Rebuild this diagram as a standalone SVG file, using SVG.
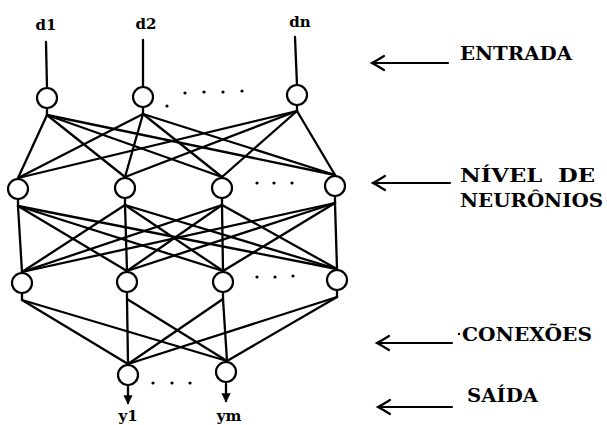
<svg xmlns="http://www.w3.org/2000/svg" width="607" height="425" viewBox="0 0 607 425">
<style>
.n{fill:#fff;stroke:#000;stroke-width:2.2}
.c line{stroke:#000;stroke-width:2.3;stroke-linecap:round}
.lbl{font-family:"DejaVu Serif","Liberation Serif",serif;font-weight:bold;fill:#000}
.t{font-size:15px}
.r{font-size:18px}
.ar{fill:none;stroke:#000;stroke-width:2.2;stroke-linecap:round}
.dot{fill:#000}
</style>
<defs>
<marker id="ah" viewBox="0 0 6 6" refX="5" refY="3" markerWidth="4" markerHeight="4" orient="auto">
<path d="M0,0 L6,3 L0,6 z" fill="#000"/>
</marker>
</defs>
<g class="c" id="connectors">
<line x1="46" y1="42" x2="47" y2="88"/>
<line x1="143" y1="40" x2="143" y2="87"/>
<line x1="295" y1="37" x2="297" y2="85"/>
<line x1="47" y1="115" x2="18" y2="178"/>
<line x1="47" y1="115" x2="125" y2="177"/>
<line x1="47" y1="115" x2="222" y2="177"/>
<line x1="47" y1="115" x2="335" y2="175"/>
<line x1="143" y1="114" x2="18" y2="178"/>
<line x1="143" y1="114" x2="125" y2="177"/>
<line x1="143" y1="114" x2="222" y2="177"/>
<line x1="143" y1="114" x2="335" y2="175"/>
<line x1="297" y1="111" x2="18" y2="178"/>
<line x1="297" y1="111" x2="125" y2="177"/>
<line x1="297" y1="111" x2="222" y2="177"/>
<line x1="297" y1="111" x2="335" y2="175"/>
<line x1="47" y1="108" x2="47" y2="115"/>
<line x1="143" y1="107" x2="143" y2="114"/>
<line x1="297" y1="105" x2="297" y2="111"/>
<line x1="18" y1="206" x2="22" y2="272"/>
<line x1="18" y1="206" x2="127" y2="271"/>
<line x1="18" y1="206" x2="223" y2="271"/>
<line x1="18" y1="206" x2="337" y2="269"/>
<line x1="125" y1="205" x2="22" y2="272"/>
<line x1="125" y1="205" x2="127" y2="271"/>
<line x1="125" y1="205" x2="223" y2="271"/>
<line x1="125" y1="205" x2="337" y2="269"/>
<line x1="222" y1="205" x2="22" y2="272"/>
<line x1="222" y1="205" x2="127" y2="271"/>
<line x1="222" y1="205" x2="223" y2="271"/>
<line x1="222" y1="205" x2="337" y2="269"/>
<line x1="335" y1="203" x2="22" y2="272"/>
<line x1="335" y1="203" x2="127" y2="271"/>
<line x1="335" y1="203" x2="223" y2="271"/>
<line x1="335" y1="203" x2="337" y2="269"/>
<line x1="18" y1="199" x2="18" y2="206"/>
<line x1="125" y1="198" x2="125" y2="205"/>
<line x1="222" y1="198" x2="222" y2="205"/>
<line x1="335" y1="196" x2="335" y2="203"/>
<line x1="22" y1="300" x2="128" y2="364"/>
<line x1="22" y1="300" x2="227" y2="361"/>
<line x1="127" y1="299" x2="128" y2="364"/>
<line x1="127" y1="299" x2="227" y2="361"/>
<line x1="223" y1="299" x2="128" y2="364"/>
<line x1="223" y1="299" x2="227" y2="361"/>
<line x1="337" y1="297" x2="128" y2="364"/>
<line x1="337" y1="297" x2="227" y2="361"/>
<line x1="22" y1="293" x2="22" y2="300"/>
<line x1="127" y1="292" x2="127" y2="299"/>
<line x1="223" y1="292" x2="223" y2="299"/>
<line x1="337" y1="290" x2="337" y2="297"/>
<line x1="128" y1="387" x2="128" y2="403" marker-end="url(#ah)"/>
<line x1="226" y1="384" x2="226" y2="401" marker-end="url(#ah)"/>
</g>
<g id="in1"><circle class="n" cx="47" cy="98" r="10"/><text class="lbl t" x="46" y="30" text-anchor="middle">d1</text></g>
<g id="in2"><circle class="n" cx="143" cy="97" r="10"/><text class="lbl t" x="146" y="29" text-anchor="middle">d2</text></g>
<g id="inn"><circle class="n" cx="297" cy="95" r="10"/><text class="lbl t" x="300" y="27" text-anchor="middle">dn</text></g>
<g id="h1a"><circle class="n" cx="18" cy="189" r="10"/></g>
<g id="h1b"><circle class="n" cx="125" cy="188" r="10"/></g>
<g id="h1c"><circle class="n" cx="222" cy="188" r="10"/></g>
<g id="h1d"><circle class="n" cx="335" cy="186" r="10"/></g>
<g id="h2a"><circle class="n" cx="22" cy="283" r="10"/></g>
<g id="h2b"><circle class="n" cx="127" cy="282" r="10"/></g>
<g id="h2c"><circle class="n" cx="223" cy="282" r="10"/></g>
<g id="h2d"><circle class="n" cx="337" cy="280" r="10"/></g>
<g id="out1"><circle class="n" cx="128" cy="375" r="10"/><text class="lbl t" x="128" y="421" text-anchor="middle">y1</text></g>
<g id="outm"><circle class="n" cx="226" cy="372" r="10"/><text class="lbl t" x="229" y="421" text-anchor="middle">ym</text></g>
<g id="dots">
<circle class="dot" cx="167" cy="106" r="1.6"/>
<circle class="dot" cx="185" cy="93" r="1.6"/>
<circle class="dot" cx="204" cy="92" r="1.6"/>
<circle class="dot" cx="223" cy="92" r="1.6"/>
<circle class="dot" cx="242" cy="91" r="1.6"/>
<circle class="dot" cx="257" cy="183" r="1.6"/>
<circle class="dot" cx="274" cy="183" r="1.6"/>
<circle class="dot" cx="292" cy="183" r="1.6"/>
<circle class="dot" cx="257" cy="277" r="1.6"/>
<circle class="dot" cx="275" cy="277" r="1.6"/>
<circle class="dot" cx="293" cy="276" r="1.6"/>
<circle class="dot" cx="153" cy="383" r="1.6"/>
<circle class="dot" cx="172" cy="383" r="1.6"/>
<circle class="dot" cx="190" cy="383" r="1.6"/>
<circle class="dot" cx="459" cy="334" r="1.2"/>
</g>
<g id="entrada">
<path class="ar" d="M372,63 L448,63 M384,56 Q376,61 372,63 Q376,65 384,70"/>
<text class="lbl r" x="460" y="60" textLength="112" lengthAdjust="spacingAndGlyphs">ENTRADA</text>
</g>
<g id="nivel">
<path class="ar" d="M373,183 L450,183 M385,176 Q377,181 373,183 Q377,185 385,190"/>
<text class="lbl r" x="460" y="182" textLength="135" lengthAdjust="spacingAndGlyphs" xml:space="preserve">NÍVEL  DE</text>
<text class="lbl r" x="460" y="207" textLength="143" lengthAdjust="spacingAndGlyphs">NEURÔNIOS</text>
</g>
<g id="conexoes">
<path class="ar" d="M377,343 L452,343 M389,336 Q381,341 377,343 Q381,345 389,350"/>
<text class="lbl r" x="462" y="341" textLength="130" lengthAdjust="spacingAndGlyphs">CONEXÕES</text>
</g>
<g id="saida">
<path class="ar" d="M378,407 L452,407 M390,400 Q382,405 378,407 Q382,409 390,414"/>
<text class="lbl r" x="467" y="402" textLength="71" lengthAdjust="spacingAndGlyphs">SAÍDA</text>
</g>
</svg>
